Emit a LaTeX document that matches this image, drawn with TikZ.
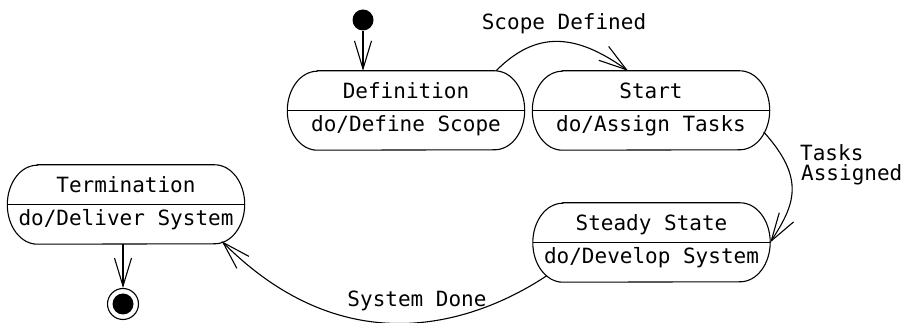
\documentclass[tikz,border=0pt]{standalone}
\usepackage{fontspec}
\setmonofont{DejaVu Sans Mono}
\usetikzlibrary{arrows.meta}
\tikzset{
  outl/.style={line width=1.1pt},
  statebody/.style={rectangle, minimum width=237pt, minimum height=79pt, inner sep=0pt},
  txt/.style={font=\ttfamily\fontsize{21}{25}\selectfont, inner sep=0pt},
  trans/.style={line width=1.1pt, -{Straight Barb[length=28pt,width=17pt,line width=1.1pt]}},
  initstate/.style={circle, fill=black, minimum size=21pt, inner sep=0pt},
  finalstate/.style={circle, draw, line width=1.1pt, minimum size=31pt, inner sep=0pt,
    path picture={\fill[black] (path picture bounding box.center) circle (10.5pt);}},
}
\newcommand\StateBox[5]{%
  \node[statebody] (#1) at (#2,#3) {};
  \draw[outl] ([xshift=30pt]#1.north west) -- ([xshift=-30pt]#1.north east)
    arc[start angle=90,end angle=-90,x radius=30pt,y radius=39.5pt]
    -- ([xshift=30pt]#1.south west)
    arc[start angle=270,end angle=90,x radius=30pt,y radius=39.5pt] -- cycle;
  \draw[outl] (#1.west) -- (#1.east);
  \node[txt, anchor=base] (#1-name) at ([yshift=11.5pt]#1.center) {#4};
  \node[txt, anchor=base] (#1-act) at ([yshift=-21pt]#1.center) {#5};
}
\begin{document}
\begin{tikzpicture}[x=1pt,y=1pt]
\useasboundingbox (0,0) rectangle (909,323);
\StateBox{def}{406}{212.5}{Definition}{do/Define Scope}
\StateBox{start}{651}{212.5}{Start}{do/Assign Tasks}
\StateBox{steady}{651.5}{80.5}{Steady State}{do/Develop System}
\StateBox{term}{126}{118.5}{Termination}{do/Deliver System}

\node[initstate] (init) at (363,303) {};
\node[finalstate] (final) at (123,19) {};

\draw[trans] (init) -- (def.north -| init);
\draw[trans] (term.south -| final) -- (final.north);

\draw[trans] ([xshift=90pt]def.north) .. controls +(40,40) and +(-53,38) .. ([xshift=-23pt]start.north);
\draw[trans] ([xshift=-6pt,yshift=-21.5pt]start.east) .. controls +(43,-47.5) and +(23.7,36.8) .. (steady.east);
\draw[trans] ([xshift=14pt,yshift=6.5pt]steady.south west) .. controls +(-46,-30.5) and +(140,-140) .. ([xshift=-23pt,yshift=3pt]term.south east);

\node[txt, anchor=base] (lscope) at (564,293) {Scope Defined};
\node[txt, anchor=base west] (ltasks1) at (800,162) {Tasks};
\node[txt, anchor=base west] (ltasks2) at (801,142) {Assigned};
\node[txt, anchor=base] (ldone) at (417,16) {System Done};
\end{tikzpicture}
\end{document}
